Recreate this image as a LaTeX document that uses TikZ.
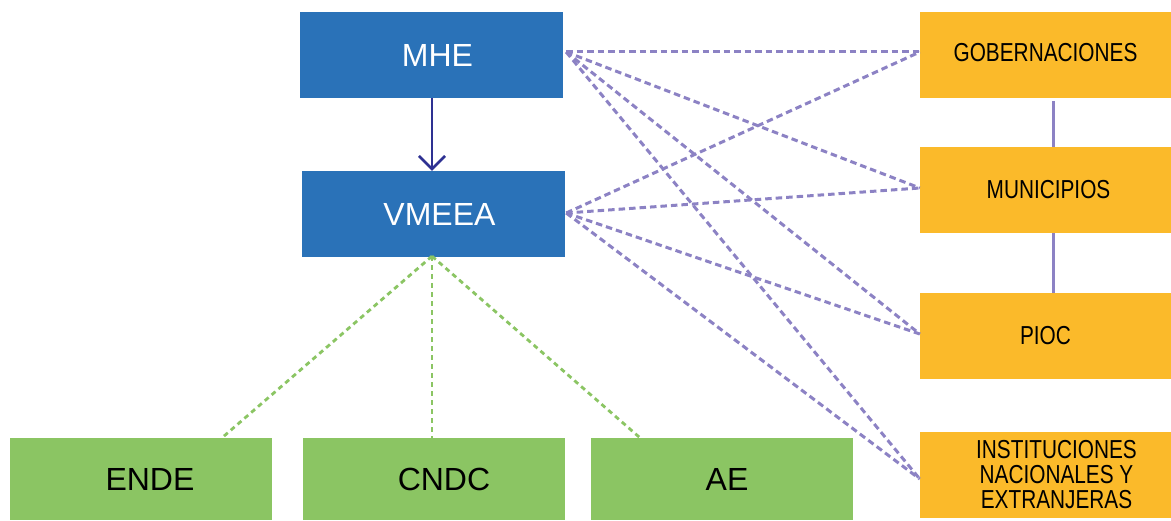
\documentclass[tikz,border=0pt]{standalone}
\usepackage{fontspec}
\setmainfont{Liberation Sans}
\usetikzlibrary{arrows.meta,calc}
\definecolor{bbox}{HTML}{2A72B8}
\definecolor{obox}{HTML}{FBBA2A}
\definecolor{gbox}{HTML}{8BC563}
\definecolor{plink}{HTML}{8C82C4}
\definecolor{navy}{HTML}{2E3192}
\tikzset{
  bluebox/.style={fill=bbox, draw=none, minimum width=263pt, minimum height=86pt, inner sep=0pt, text=white, font=\fontsize{32}{36}\selectfont},
  greenbox/.style={fill=gbox, draw=none, minimum width=262pt, minimum height=82pt, inner sep=0pt, text=black, font=\fontsize{32}{36}\selectfont},
  orangebox/.style={fill=obox, draw=none, minimum width=251pt, minimum height=86pt, inner sep=0pt, text=black, font=\fontsize{26}{28}\selectfont, align=center},
  plinkdash/.style={draw=plink, line width=3pt, dash pattern=on 6.5pt off 4pt},
  glinkdash/.style={draw=gbox, line width=2.8pt, dash pattern=on 5pt off 4pt},
  psolid/.style={draw=plink, line width=2.8pt},
  arrowline/.style={draw=navy, line width=2.6pt, -{Straight Barb[length=13pt,width=26pt,line width=2.6pt]}}
}
\newcommand{\nrw}[1]{\scalebox{0.8}[1]{#1}}
\begin{document}
\begin{tikzpicture}[x=1pt,y=-1pt]
\useasboundingbox (0,0) rectangle (1171,521);
% blue boxes
\node[bluebox] (mhe) at (431.5,55) {\hspace*{12pt}MHE};
\node[bluebox] (vmeea) at (433.5,214) {\hspace*{12pt}VMEEA};
% green boxes
\node[greenbox] (ende) at (141,479) {\hspace*{18pt}\raisebox{-5pt}{ENDE}};
\node[greenbox] (cndc) at (434,479) {\hspace*{20pt}\raisebox{-5pt}{CNDC}};
\node[greenbox] (ae) at (722,479) {\hspace*{10pt}\raisebox{-6pt}{AE}};
% orange boxes
\node[orangebox] (gob) at (1045.5,55) {\raisebox{5pt}{\nrw{GOBERNACIONES}}};
\node[orangebox] (mun) at (1045.5,190) {\hspace*{6pt}\nrw{MUNICIPIOS}};
\node[orangebox] (pioc) at (1045.5,336) {\nrw{PIOC}};
\node[orangebox] (inst) at (1045.5,475) {\hspace*{22pt}\raisebox{-2pt}{\parbox{200pt}{\centering\fontsize{26}{27}\selectfont\nrw{INSTITUCIONES}\\[-2pt]\nrw{NACIONALES Y}\\[-2pt]\nrw{EXTRANJERAS}}}};
% arrow
\draw[arrowline] (mhe.south) ++(0.5,0) coordinate (a0) -- (a0 |- vmeea.north);
% solid links between orange boxes
\draw[psolid] ([xshift=8pt,yshift=-3pt]gob.south) -- ([xshift=8pt]mun.north);
\draw[psolid] ([xshift=8pt]mun.south) -- ([xshift=8pt]pioc.north);
% purple dashed links
\coordinate (mheR) at ([xshift=3pt,yshift=3pt]mhe.east);
\coordinate (vmR) at ([xshift=1pt,yshift=1pt]vmeea.east);
\draw[plinkdash] (mheR) -- ([yshift=3pt]gob.west);
\draw[plinkdash] (mheR) -- ([yshift=2pt]mun.west);
\draw[plinkdash] (mheR) -- ([yshift=2pt]pioc.west);
\draw[plinkdash] (mheR) -- ([yshift=-4pt]inst.west);
\draw[plinkdash] (vmR) -- ([yshift=3pt]gob.west);
\draw[plinkdash] (vmR) -- ([yshift=2pt]mun.west);
\draw[plinkdash] (vmR) -- ([yshift=2pt]pioc.west);
\draw[plinkdash] (vmR) -- ([yshift=-4pt]inst.west);
% green dashed links
\coordinate (vmB) at ([xshift=-1.5pt,yshift=1pt]vmeea.south);
\draw[glinkdash] (vmB) -- ([xshift=81pt]ende.north);
\draw[glinkdash] (vmB) -- ([xshift=-2pt]cndc.north);
\draw[glinkdash] (vmB) -- ([xshift=-82pt]ae.north);
\end{tikzpicture}
\end{document}
